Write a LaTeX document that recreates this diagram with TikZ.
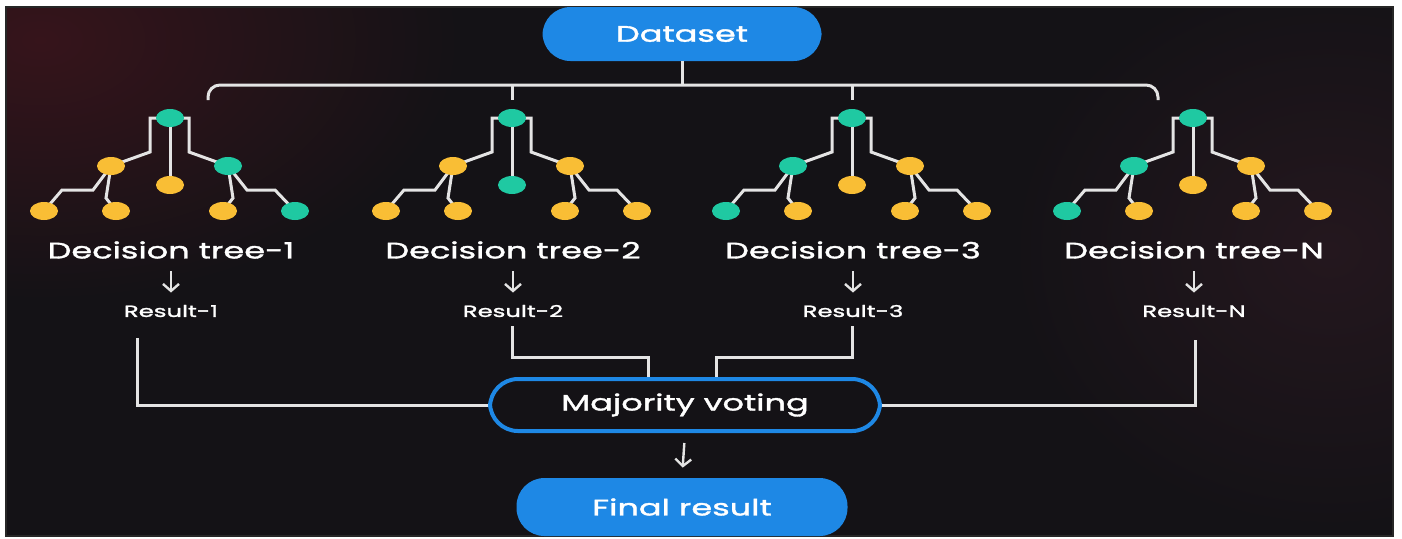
\documentclass[tikz,border=0pt]{standalone}
\usepackage{fontspec}
\setmainfont{Poppins}[FakeStretch=1.5,FakeBold=1.6]
\usetikzlibrary{shapes.geometric}
\usetikzlibrary{arrows.meta}
\usetikzlibrary{backgrounds}

\definecolor{bgDark}{HTML}{141216}
\definecolor{bgRed}{HTML}{36141B}
\definecolor{bgPlum}{HTML}{24171E}
\definecolor{pillBlue}{HTML}{1E88E5}
\definecolor{dotT}{HTML}{1FC9A2}
\definecolor{dotY}{HTML}{F9BE35}
\definecolor{wireGrey}{HTML}{E4E4E4}

\begin{document}
\begin{tikzpicture}
[x=0.5pt,y=-0.5pt,%
  wire/.style={draw=wireGrey,line width=1.5pt},%
  arrowDecorate/.style={draw=wireGrey,line width=1.2pt,-{Straight Barb[length=3.5pt,width=8pt]}},%
  dotDecorate/.style={shape=ellipse,minimum width=14pt,minimum height=9pt,inner sep=0pt},%
  pillDecorate/.style={shape=rectangle,rounded corners=14pt,inner sep=0pt,text=white,font=\fontsize{11.2}{13}\selectfont},%
  labelDecorate/.style={inner sep=0pt,text=white,font=\fontsize{11.2}{13}\selectfont},%
  resultDecorate/.style={inner sep=0pt,text=white,font=\fontsize{8.1}{10}\selectfont}]
\useasboundingbox (0,0) rectangle (1402,538);
%% background
\begin{scope}[on background layer]
  \fill[bgDark] (6,7) rectangle (1393,536);
  \begin{scope}
    \clip (6,7) rectangle (1393,536);
    \shade[inner color=bgRed,outer color=bgDark] (40,40) ellipse [x radius=420,y radius=260];
    \shade[inner color=bgPlum,outer color=bgDark] (1330,250) ellipse [x radius=320,y radius=280];
  \end{scope}
  \draw[black!85,line width=0.8pt] (6,7) rectangle (1393,536);
\end{scope}
%% dataset and its bracket
\node[pillDecorate,fill=pillBlue,minimum width=139.5pt,minimum height=27pt] (dataset) at (682,34) {Dataset};
\coordinate (braceL) at (208,100);
\coordinate (braceM) at (682,85);
\coordinate (braceR) at (1158,100);
\coordinate (tick2) at (512,100);
\coordinate (tick3) at (852,100);
\draw[wire,rounded corners=6pt] (braceL) |- (braceM) -| (braceR);
\draw[wire] (dataset.south) -- (braceM);
\draw[wire] (tick2 |- braceM) -- (tick2);
\draw[wire] (tick3 |- braceM) -- (tick3);
%% decision trees, their labels and results
\foreach \t/\n/\x/\cr/\cl/\cm/\cc/\ca/\cb/\cd/\ce in {
  1/1/170/T/Y/Y/T/Y/Y/Y/T, 2/2/512/T/Y/T/Y/Y/Y/Y/Y,
  3/3/852/T/T/Y/Y/T/Y/Y/Y, 4/N/1193/T/T/Y/Y/T/Y/Y/Y}
{
  \node[dotDecorate,fill=dot\cr] (t\t-root) at (\x,118) {};
  \node[dotDecorate,fill=dot\cl] (t\t-left) at (\x-59,166) {};
  \node[dotDecorate,fill=dot\cm] (t\t-mid) at (\x,185) {};
  \node[dotDecorate,fill=dot\cc] (t\t-right) at (\x+58,166) {};
  \node[dotDecorate,fill=dot\ca] (t\t-a) at (\x-126,211) {};
  \node[dotDecorate,fill=dot\cb] (t\t-b) at (\x-54,211) {};
  \node[dotDecorate,fill=dot\cd] (t\t-c) at (\x+53,211) {};
  \node[dotDecorate,fill=dot\ce] (t\t-d) at (\x+125,211) {};
  \begin{scope}[on background layer]
    \draw[wire] (t\t-root.center) -- ++(-20,0) -- ++(0,34) -- (t\t-left.center);
    \draw[wire] (t\t-root.center) -- (t\t-mid.center);
    \draw[wire] (t\t-root.center) -- ++(19,0) -- ++(0,34) -- (t\t-right.center);
    \draw[wire] (t\t-left.center) -- ++(-18,24) -- ++(-31,0) -- (t\t-a.center);
    \draw[wire] (t\t-left.center) -- ++(-5,32) -- (t\t-b.center);
    \draw[wire] (t\t-right.center) -- ++(5,32) -- (t\t-c.center);
    \draw[wire] (t\t-right.center) -- ++(19,24) -- ++(28,0) -- (t\t-d.center);
  \end{scope}
  \node[labelDecorate] (lab\t) at (\x+1,250) {Decision tree-\n};
  \node[resultDecorate] (res\t) at (\x+1,311) {Result-\n};
  \draw[arrowDecorate,shorten <=6pt,shorten >=6pt] (lab\t.south) -- (res\t.north);
}
%% majority voting and final result
\node[pillDecorate,draw=pillBlue,line width=2pt,fill=bgDark,minimum width=195pt,minimum height=26pt] (vote) at (685,405) {Majority voting};
\node[pillDecorate,fill=pillBlue,minimum width=165.5pt,minimum height=29pt] (final) at (682,507) {Final result};
\coordinate (r1) at (137,338);
\coordinate (r2) at (512,326);
\coordinate (r3) at (852,326);
\coordinate (r4) at (1195,340);
\draw[wire] (r1) |- (vote.west);
\draw[wire] (r2) |- ([xshift=-18.5pt,yshift=10pt]vote.north) -- ([xshift=-18.5pt]vote.north);
\draw[wire] (r3) |- ([xshift=15.5pt,yshift=10pt]vote.north) -- ([xshift=15.5pt]vote.north);
\draw[wire] (r4) |- (vote.east);
\draw[arrowDecorate,shorten <=5pt,shorten >=5pt] (vote.south) -- (final.north);
\end{tikzpicture}
\end{document}
